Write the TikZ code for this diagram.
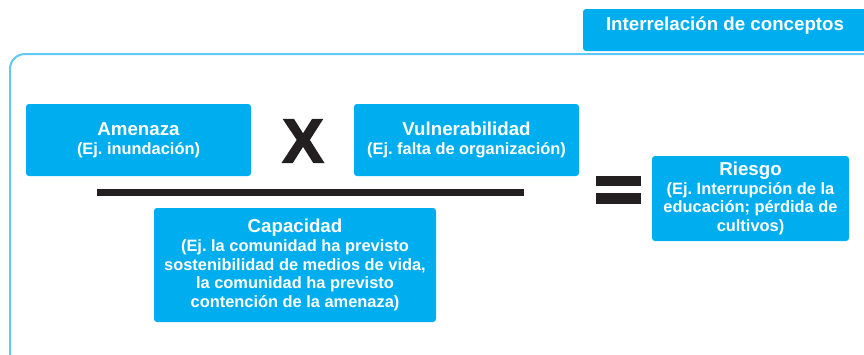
\documentclass[tikz,border=0pt]{standalone}
\usepackage{fontspec}
\setmainfont{Liberation Sans}
\newfontfamily\signfont[FakeBold=2.5]{Liberation Sans Bold}
\usepackage{xcolor}
\usepackage{tikz}
\usetikzlibrary{positioning}
\definecolor{conceptcyan}{RGB}{0,174,239}
\definecolor{framecyan}{RGB}{95,200,245}
\definecolor{inkblack}{RGB}{35,31,32}
\newcommand{\headfont}{\fontsize{18.7}{20}\selectfont\bfseries}
\newcommand{\notefont}{\fontsize{16.4}{18.6}\selectfont\bfseries}
\frenchspacing
\tikzset{
  conceptbox/.style={fill=conceptcyan,rounded corners=3pt,text=white,align=center,
    inner sep=0pt,font=\notefont},
  headerbox/.style={fill=conceptcyan,rounded corners=3pt,text=white,inner sep=0pt,
    text height=0pt,text depth=0pt,font=\headfont},
  operatorsign/.style={text=inkblack,inner sep=0pt,font=\fontsize{62}{62}\selectfont\signfont},
  fractionbar/.style={draw=inkblack,line width=7pt},
  outerframe/.style={draw=framecyan,line width=2pt,rounded corners=15pt}
}

\begin{document}
\begin{tikzpicture}[x=1pt,y=-1pt]
  \useasboundingbox (0,0) rectangle (864,354);
  \clip (0,0) rectangle (864,354);
  \path[outerframe] (10,54) rectangle (900,390);
  \node[headerbox,minimum width=284,minimum height=42] (header) at (725,30) {Interrelación de conceptos};
  % numerator
  \node[conceptbox,minimum width=225,minimum height=72] (amenaza) at (138.5,140)
    {{\headfont Amenaza}\\(Ej. inundación)};
  \node[operatorsign] (por) at (303,141) {X};
  \node[conceptbox,minimum width=225,minimum height=72] (vulnerab) at (466.5,140)
    {{\headfont Vulnerabilidad}\\(Ej. falta de organización)};
  \coordinate (barleft) at (97,192);
  \coordinate (barright) at (524,192);
  \draw[fractionbar] (barleft)--(barright);
  % denominator
  \node[conceptbox,minimum width=282,minimum height=114] (capacidad) at (295,265)
    {{\headfont Capacidad}\\(Ej. la comunidad ha previsto\\sostenibilidad de medios de vida,\\la comunidad ha previsto\\contención de la amenaza)};
  % result
  \fill[inkblack] (596,176) rectangle (641,186);
  \fill[inkblack] (596,193) rectangle (641,204);
  \node[conceptbox,minimum width=197,minimum height=85] (riesgo) at (750.5,198.5)
    {{\headfont Riesgo}\\(Ej. Interrupción de la\\educación; pérdida de\\cultivos)};
\end{tikzpicture}
\end{document}
